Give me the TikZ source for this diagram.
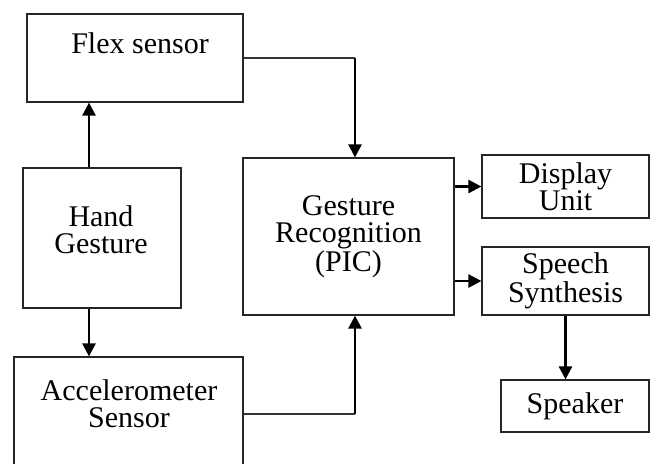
\documentclass[tikz,border=0pt]{standalone}
\usepackage{fontspec}
\setmainfont{Liberation Serif}
\usetikzlibrary{arrows.meta,positioning}
\tikzset{
	block/.style={
		rectangle,
		draw=black!85,
		line width=0.6pt,
		align=center,
		inner sep=0pt,
		font=\fontsize{15}{13.5}\selectfont
	},
	caption/.style={
		align=center,
		inner sep=0pt,
		font=\fontsize{15}{13.5}\selectfont
	},
	line/.style={-{Triangle[width=6.5pt,length=6.5pt]},line width=1.3pt},
	wire/.style={line width=0.6pt,draw=black!80}
}

\begin{document}
\begin{tikzpicture}[x=0.5pt,y=-0.5pt]
		\clip (0,0) rectangle (651,463);
		% left column
		\node[block,minimum width=108pt,minimum height=44pt] (flex) at (135,58) {};
		\node[caption] (flextext) at (140,43) {Flex sensor};
		\node[block,minimum width=79pt,minimum height=70pt] (hand) at (102,238) {};
		\node[caption] (handtext) at (101,229.5) {Hand\\Gesture};
		\node[block,minimum width=114.5pt,minimum height=57pt] (accel) at (128.5,414) {};
		\node[caption] (acceltext) at (129,404) {Accelerometer\\Sensor};
		% middle and right
		\node[block,minimum width=105.5pt,minimum height=78.5pt] (recog) at (348.5,236.5) {Gesture\\Recognition\\(PIC)};
		\node[block,minimum width=83.5pt,minimum height=31.5pt] (display) at (565.5,186.5) {Display\\Unit};
		\node[block,minimum width=83.5pt,minimum height=34pt] (speech) at (565.5,281) {Speech\\Synthesis};
		\node[block,minimum width=74pt,minimum height=26pt] (speaker) at (575,406) {Speaker};
		\coordinate (feed) at (355,0);
		\coordinate (handx) at (89,0);

		\draw[line] (hand.north -| handx) -- (flex.south -| handx);
		\draw[line] (hand.south -| handx) -- (accel.north -| handx);
		\draw[wire] (flex.east) -- (flex.east -| feed);
		\draw[line] (flex.east -| feed) -- (recog.north -| feed);
		\draw[wire] (accel.east) -- (accel.east -| feed);
		\draw[line] (accel.east -| feed) -- (recog.south -| feed);
		\draw[line] (recog.east |- display.west) -- (display.west);
		\draw[line] (recog.east |- speech.west) -- (speech.west);
		\draw[line] (speech.south) -- (speech.south |- speaker.north);
	\end{tikzpicture}
\end{document}
